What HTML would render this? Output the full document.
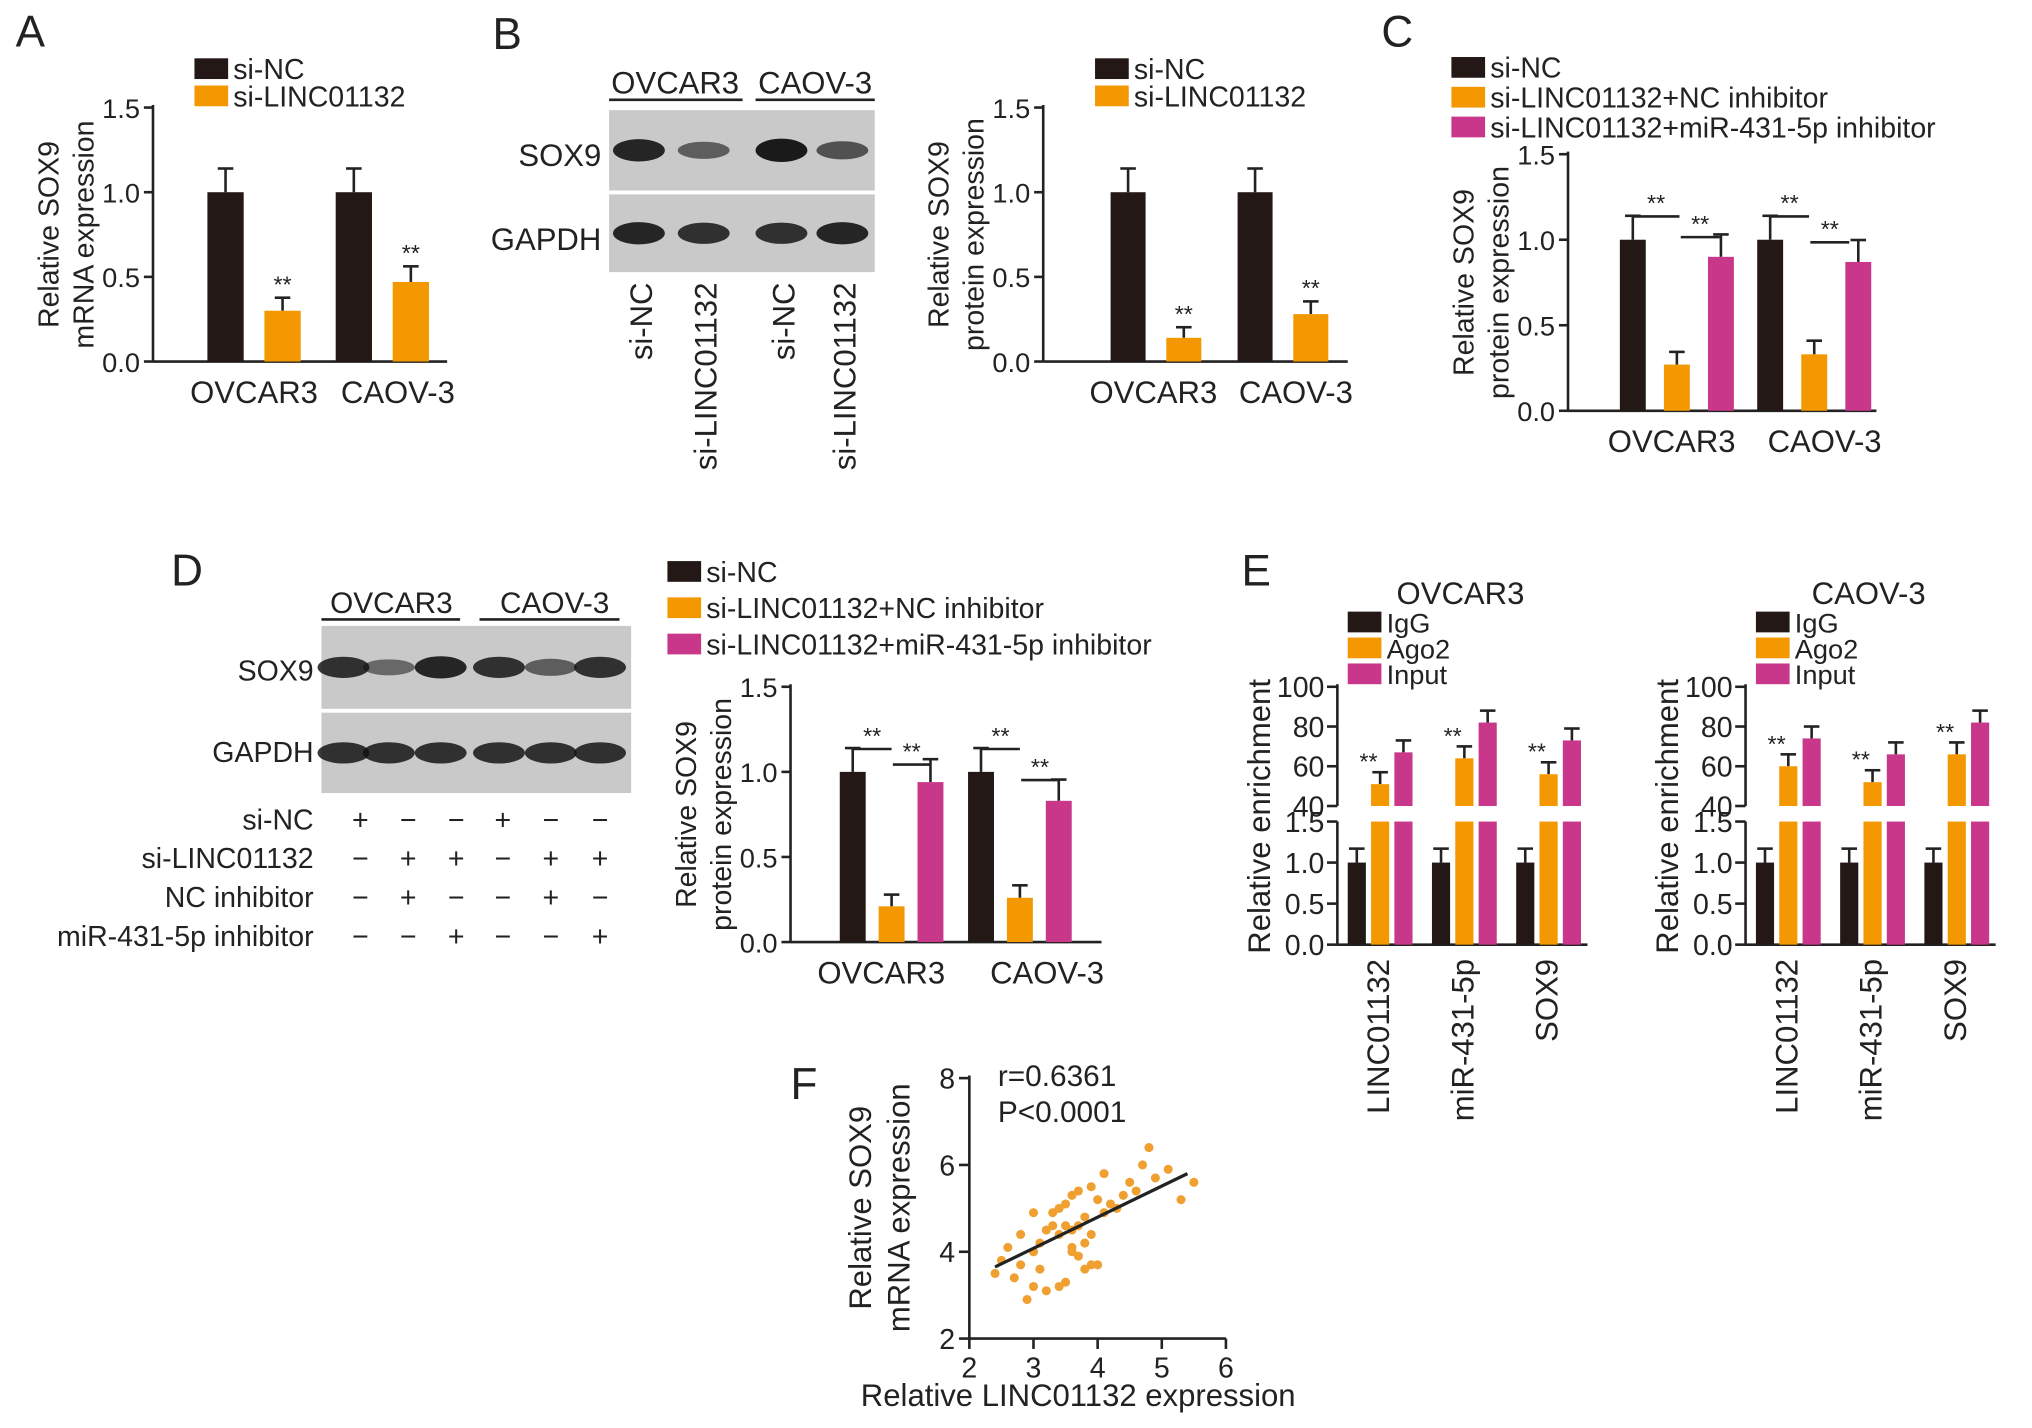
<!DOCTYPE html>
<html><head><meta charset="utf-8"><style>
html,body{margin:0;padding:0;background:#fff}
svg{display:block}
text{font-family:"Liberation Sans",sans-serif;fill:#222}
</style></head><body>
<svg id="fig" xmlns="http://www.w3.org/2000/svg" width="2032" height="1428" viewBox="0 0 1568 1102">
<g id="root"></g>
</svg>
<script>
// ===== data =====
const groupsAB = ["OVCAR3","CAOV-3"];
const aNC = [1.0, 1.0], aSi = [0.30, 0.47];
const bNC = [1.0, 1.0], bSi = [0.14, 0.28];
const cNC = [1.0, 1.0], cSiNC = [0.27, 0.33], cSiMiR = [0.90, 0.87];
const dNC = [1.0, 1.0], dSiNC = [0.21, 0.26], dSiMiR = [0.94, 0.83];
const yTicks15 = [0, 0.5, 1.0, 1.5];
const yTickLabels15 = ["0.0","0.5","1.0","1.5"];
const eCats = ["LINC01132","miR-431-5p","SOX9"];
const eOvIgG = [1.0, 1.0, 1.0], eOvAgo = [51, 64, 56], eOvInput = [67, 82, 73];
const eCaIgG = [1.0, 1.0, 1.0], eCaAgo = [60, 52, 66], eCaInput = [74, 66, 82];
const eUpTicks = [40, 60, 80, 100];
const fX = [2.4,2.6,2.7,2.8,2.8,2.9,3.0,3.0,3.1,3.1,3.2,3.2,3.3,3.3,3.4,3.4,3.4,3.5,3.5,3.5,3.6,3.6,3.6,3.7,3.7,3.7,3.8,3.8,3.8,3.9,3.9,3.9,4.0,4.0,4.1,4.1,4.2,4.3,4.4,4.5,4.6,4.7,4.8,4.9,5.1,5.3,5.5,2.5,3.0,3.6];
const fY = [3.5,4.1,3.4,3.7,4.4,2.9,3.2,4.9,3.6,4.2,4.5,3.1,4.9,4.6,3.2,4.4,5.0,4.6,5.1,3.3,4.5,4.0,5.3,4.6,3.9,5.4,4.8,4.2,3.6,3.7,5.5,4.4,5.2,3.7,4.9,5.8,5.1,5.0,5.3,5.6,5.4,6.0,6.4,5.7,5.9,5.2,5.6,3.8,4.0,4.1];
const fTicksX = [2,3,4,5,6], fTicksY = [2,4,6,8];

const NS="http://www.w3.org/2000/svg";
const root=document.getElementById('root');
function el(tag,attrs,parent,txt){const e=document.createElementNS(NS,tag);for(const k in attrs)e.setAttribute(k,attrs[k]);if(txt!==undefined)e.textContent=txt;(parent||root).appendChild(e);return e;}
function txt(x,y,s,size,anchor,name,rot,parent){const a={x:x,y:y,'font-size':size||22,'text-anchor':anchor||'start'};if(rot)a.transform=`rotate(${rot} ${x} ${y})`;const t=el('text',a,parent,s);

return t;}
function line(x1,y1,x2,y2,w,parent,name){const l=el('line',{x1,y1,x2,y2,stroke:'#222','stroke-width':w||2},parent);

return l;}
const COL={k:'#231815',o:'#f39800',m:'#c8378a'};

function legend(x,y,items,gap,size){items.forEach((it,i)=>{const r=el('rect',{x:x,y:y+i*gap-8,width:26,height:16,fill:it[1]});


txt(x+30,y+i*gap+8,it[0],size||22,'start','legend-entry');});}

function barChart(o){
  const g=el('g',{});
  
  
  const ys=v=>o.y0-(v/1.5)*(o.y0-o.y1);
  line(o.ax,o.y1-2,o.ax,o.y0,2,g,'y-axis');line(o.ax,o.y0,o.ax2,o.y0,2,g,'x-axis');
  yTicks15.forEach((t,i)=>{line(o.ax-7,ys(t),o.ax,ys(t),2,g,'y-tick');txt(o.ax-10,ys(t)+8,yTickLabels15[i],21,'end','y-tick-label',0,g);});
  o.series.forEach((s,si)=>{s.vals.forEach((v,gi)=>{const x=o.bx[gi]+si*o.step;const yy=ys(v);
    const err=v*0.09+0.05;
    line(x+o.bw/2,ys(v+err),x+o.bw/2,yy,2,g,'error-bar');line(x+o.bw/2-6,ys(v+err),x+o.bw/2+6,ys(v+err),2,g,'error-cap');
    const r=el('rect',{x:x,y:yy,width:o.bw,height:o.y0-yy,fill:s.c},g);
    
    
    if(s.star)txt(x+o.bw/2,ys(v+err)-4,'**',18,'middle','significance',0,g);});});
  if(o.brackets)o.brackets.forEach(b=>{line(b[0],b[2],b[1],b[2],2,g,'bracket');txt((b[0]+b[1])/2,b[2]-4,'**',18,'middle','significance',0,g);});
  groupsAB.forEach((c,i)=>txt(o.xl[i],o.y0+32,c,24,'middle','x-tick-label',0,g));
  txt(o.ax-73,(o.y0+o.y1)/2,o.t1,22,'middle','y-axis-title',-90,g);
  txt(o.ax-46,(o.y0+o.y1)/2,o.t2,22,'middle','y-axis-title',-90,g);
}
// Panel letters
[["A",12,36],["B",380,38],["C",1066,36],["D",132,452],["E",958,452],["F",610,848]].forEach(p=>txt(p[1],p[2],p[0],34,'start','panel-label-'+p[0].toLowerCase()));

// A
legend(150,53,[["si-NC",COL.k],["si-LINC01132",COL.o]],21);
barChart({name:'chart-a',ax:118,ax2:345,y0:279,y1:83,bx:[160,259],step:44,bw:28,xl:[196,307],t1:'Relative SOX9',t2:'mRNA expression',
 series:[{vals:aNC,c:COL.k},{vals:aSi,c:COL.o,star:1}]});
// B chart
legend(845,53,[["si-NC",COL.k],["si-LINC01132",COL.o]],21);
barChart({name:'chart-b',ax:805,ax2:1040,y0:279,y1:83,bx:[857,955],step:43,bw:27,xl:[890,1000],t1:'Relative SOX9',t2:'protein expression',
 series:[{vals:bNC,c:COL.k},{vals:bSi,c:COL.o,star:1}]});
// C
legend(1120,52,[["si-NC",COL.k],["si-LINC01132+NC inhibitor",COL.o],["si-LINC01132+miR-431-5p inhibitor",COL.m]],23);
barChart({name:'chart-c',ax:1210,ax2:1448,y0:317,y1:119,bx:[1250,1356],step:34,bw:20,xl:[1290,1408],t1:'Relative SOX9',t2:'protein expression',
 series:[{vals:cNC,c:COL.k},{vals:cSiNC,c:COL.o},{vals:cSiMiR,c:COL.m}],brackets:[[1260,1296,167],[1297,1327,183],[1366,1396,167],[1397,1427,187]]});
// D chart
legend(515,441,[["si-NC",COL.k],["si-LINC01132+NC inhibitor",COL.o],["si-LINC01132+miR-431-5p inhibitor",COL.m]],28);
barChart({name:'chart-d',ax:610,ax2:850,y0:727,y1:530,bx:[648,747],step:30,bw:20,xl:[680,808],t1:'Relative SOX9',t2:'protein expression',
 series:[{vals:dNC,c:COL.k},{vals:dSiNC,c:COL.o},{vals:dSiMiR,c:COL.m}],brackets:[[658,688,578],[689,718,590],[757,787,578],[788,817,602]]});

// Blots
function blot(name,x,y,w,h1,h2,lanes,intens){const g=el('g',{});
 [[y,h1,0],[y+h1+3,h2,1]].forEach(([yy,hh,row])=>{el('rect',{x:x,y:yy,width:w,height:hh,fill:'#c9c9c9'},g);
  lanes.forEach((lx,i)=>{const k=intens[row][i];el('ellipse',{cx:lx,cy:yy+hh/2,rx:20,ry:5+k*4,fill:'#111','fill-opacity':0.35+0.6*k},g);});});}
blot('western-blot-b',470,85,205,62,60,[493,543,603,650],[[0.9,0.4,1,0.5],[0.9,0.8,0.8,0.9]]);
txt(521,72,'OVCAR3',24,'middle','cell-line-label');line(470,77,573,77,2);
txt(629,72,'CAOV-3',24,'middle','cell-line-label');line(583,77,675,77,2);
txt(464,128,'SOX9',24,'end','blot-row-label');txt(464,193,'GAPDH',24,'end','blot-row-label');
[["si-NC",503],["si-LINC01132",553],["si-NC",613],["si-LINC01132",660]].forEach(l=>txt(l[1],218,l[0],24,'end','lane-label',-90));

blot('western-blot-d',248,483,239,64,62,[265,300,340,385,425,463],[[0.8,0.3,0.9,0.8,0.4,0.8],[0.8,0.8,0.8,0.8,0.8,0.8]]);
txt(302,473,'OVCAR3',23,'middle','cell-line-label');line(248,478,355,478,2);
txt(428,473,'CAOV-3',23,'middle','cell-line-label');line(370,478,478,478,2);
txt(242,525,'SOX9',22,'end','blot-row-label');txt(242,588,'GAPDH',22,'end','blot-row-label');
const tRows=[["si-NC","+−−+−−"],["si-LINC01132","−++−++"],["NC inhibitor","−+−−+−"],["miR-431-5p inhibitor","−−+−−+"]];
const lanesD=[278,315,352,388,425,463];
tRows.forEach((r,i)=>{txt(242,640+i*30,r[0],22,'end','treatment-row-label');[...r[1]].forEach((c,j)=>txt(lanesD[j],640+i*30,c,22,'middle','treatment-sign'));});

// E
function chartE(name,ax,centers,title,igg,ago,inp){const g=el('g',{});
 const lo0=729,lo1=634,up0=622,up1=530,ax2=ax+193;
 const yl=v=>lo0-v/1.5*(lo0-lo1), yu=v=>up0-(v-40)/60*(up0-up1);
 line(ax,up1-2,ax,up0,2,g,'y-axis-upper');line(ax,lo1,ax,lo0,2,g,'y-axis-lower');line(ax,lo0,ax2,lo0,2,g,'x-axis');
 eUpTicks.forEach(t=>{line(ax-8,yu(t),ax,yu(t),2,g,'y-tick');txt(ax-10,yu(t)+8,String(t),22,'end','y-tick-label',0,g);});
 yTicks15.forEach((t,i)=>{line(ax-8,yl(t),ax,yl(t),2,g,'y-tick');txt(ax-10,yl(t)+8,yTickLabels15[i],22,'end','y-tick-label',0,g);});
 centers.forEach((c,i)=>{
  const bx=c-25;
  line(bx+7,yl(1.17),bx+7,yl(1),2,g,'error-bar');line(bx+1,yl(1.17),bx+13,yl(1.17),2,g,'error-cap');
  let r=el('rect',{x:bx,y:yl(igg[i]),width:14,height:lo0-yl(igg[i]),fill:COL.k},g);
  [[ago[i],COL.o,bx+18,'ago2',1],[inp[i],COL.m,bx+36,'input',0]].forEach(([v,c2,x,n,st])=>{
   line(x+7,yu(v+6),x+7,yu(v),2,g,'error-bar');line(x+1,yu(v+6),x+13,yu(v+6),2,g,'error-cap');
   let a=el('rect',{x:x,y:yu(v),width:14,height:up0-yu(v),fill:c2},g);
   let b=el('rect',{x:x,y:lo1,width:14,height:lo0-lo1,fill:c2},g);
   if(st)txt(x-2,yu(v+6)-2,'**',18,'middle','significance',0,g);});
  txt(c+7,740,eCats[i],24,'end','x-tick-label',-90,g);});
 txt(ax+95,466,title,24,'middle','chart-title',0,g);
 legend(ax+8,480,[["IgG",COL.k],["Ago2",COL.o],["Input",COL.m]],20,21);
 txt(ax-52,630,'Relative enrichment',24,'middle','y-axis-title',-90,g);}
chartE('chart-e-ovcar3',1032,[1065,1130,1195],'OVCAR3',eOvIgG,eOvAgo,eOvInput);
chartE('chart-e-caov3',1347,[1380,1445,1510],'CAOV-3',eCaIgG,eCaAgo,eCaInput);

// F
(function(){const g=el('g',{});
 const sx=v=>748+(v-2)/4*198, sy=v=>1033-(v-2)/6*201;
 line(748,830,748,1033,2,g,'y-axis');line(748,1033,946,1033,2,g,'x-axis');
 fTicksY.forEach(t=>{line(740,sy(t),748,sy(t),2,g,'y-tick');txt(737,sy(t)+8,String(t),22,'end','y-tick-label',0,g);});
 fTicksX.forEach(t=>{line(sx(t),1033,sx(t),1041,2,g,'x-tick');txt(sx(t),1063,String(t),22,'middle','x-tick-label',0,g);});
 fX.forEach((x,i)=>{const c=el('circle',{cx:sx(x),cy:sy(fY[i]),r:3.5,fill:'#f0a030'},g);});
 line(sx(2.4),sy(3.65),sx(5.4),sy(5.8),2.5,g,'regression-line');
 txt(770,838,'r=0.6361',23,'start','stat-r',0,g);txt(770,866,'P<0.0001',23,'start','stat-p',0,g);
 txt(672,932,'Relative SOX9',24,'middle','y-axis-title',-90,g);txt(702,932,'mRNA expression',24,'middle','y-axis-title',-90,g);
 txt(832,1085,'Relative LINC01132 expression',24,'middle','x-axis-title',0,g);})();
</script>
</body></html>
